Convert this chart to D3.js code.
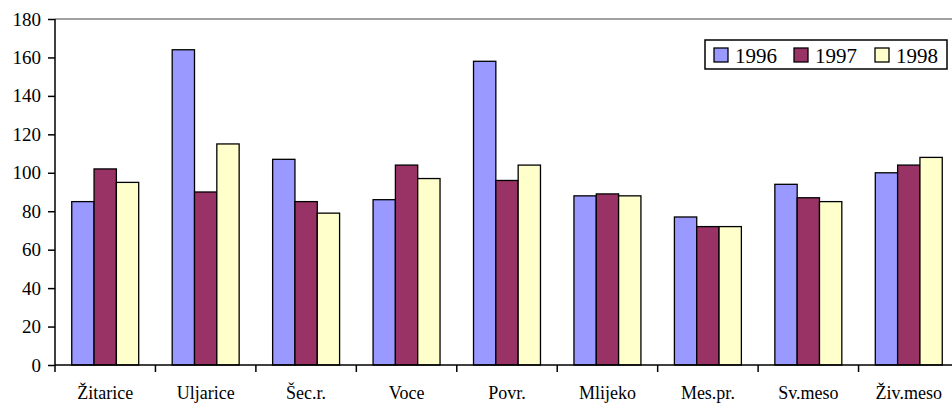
<!DOCTYPE html>
<html>
<head>
<meta charset="utf-8">
<script src="https://cdn.jsdelivr.net/npm/d3@7"></script>
<style>
  body { margin: 0; background: #fff; overflow: hidden; }
  svg text { font-family: "Liberation Serif", "DejaVu Serif", serif; fill: #000; }
</style>
</head>
<body>
<div id="chart"></div>
<script>
// categories and values per year
const categories = ["Žitarice", "Uljarice", "Šec.r.", "Voce", "Povr.", "Mlijeko", "Mes.pr.", "Sv.meso", "Živ.meso"];
const years = ["1996", "1997", "1998"];
const v1996 = [85, 164, 107, 86, 158, 88, 77, 94, 100];
const v1997 = [102, 90, 85, 104, 96, 89, 72, 87, 104];
const v1998 = [95, 115, 79, 97, 104, 88, 72, 85, 108];
const yTicks = [0, 20, 40, 60, 80, 100, 120, 140, 160, 180];
const colors = ["#9999ff", "#993366", "#ffffcc"];

const series = [v1996, v1997, v1998];

const wid = 952, hei = 404;
// plot area
const padLeft = 55, padRight = 959, padTop = 19, padBottom = 365;
const serif = "Liberation Serif";

const svg = d3.select("#chart").append("svg")
    .attr("width", wid)
    .attr("height", hei)
    .style("display", "block");

const yScale = d3.scaleLinear().domain([0, 180]).range([padBottom, padTop]);

const xScale = d3.scaleBand()
    .domain(categories)
    .range([padLeft, padRight])
    .paddingInner(0)
    .paddingOuter(0);

// bar group inside each band: 3 bars + 150% gap
const barW = xScale.bandwidth() / 4.5;
const xInner = d3.scaleBand()
    .domain(years)
    .range([barW * 0.75, barW * 3.75]);

// top gridline
svg.append("line")
    .attr("x1", padLeft).attr("x2", wid)
    .attr("y1", yScale(180)).attr("y2", yScale(180))
    .attr("stroke", "#808080")
    .attr("stroke-width", 1.5);

// bars
const groups = svg.selectAll("g.cat")
    .data(categories)
    .enter()
    .append("g")
    .attr("class", "cat")
    .attr("transform", d => `translate(${xScale(d)},0)`);

groups.selectAll("rect")
    .data((d, i) => years.map((y, j) => ({ year: y, value: series[j][i], j })))
    .enter()
    .append("rect")
    .attr("x", d => xInner(d.year))
    .attr("y", d => yScale(d.value))
    .attr("width", xInner.bandwidth())
    .attr("height", d => padBottom - yScale(d.value))
    .attr("fill", d => colors[d.j])
    .attr("stroke", "#000")
    .attr("stroke-width", 1.3);

// y axis
const yAxis = d3.axisLeft(yScale)
    .tickValues(yTicks)
    .tickSize(7)
    .tickPadding(7);
const yG = svg.append("g")
    .attr("transform", `translate(${padLeft},0)`)
    .call(yAxis)
    .attr("font-family", serif)
    .attr("font-size", 19);
yG.select(".domain").attr("stroke-width", 1.5).attr("d", `M0,${padTop}V${padBottom}`);
yG.selectAll(".tick line").attr("stroke-width", 1.5);

// x axis
const xG = svg.append("g")
    .attr("transform", `translate(0,${padBottom})`)
    .attr("font-family", serif)
    .attr("font-size", 18);
xG.append("line")
    .attr("x1", padLeft).attr("x2", wid)
    .attr("stroke", "#000").attr("stroke-width", 1.5);
xG.selectAll("line.tk")
    .data(categories)
    .enter()
    .append("line")
    .attr("class", "tk")
    .attr("x1", d => xScale(d)).attr("x2", d => xScale(d))
    .attr("y1", 0).attr("y2", 7)
    .attr("stroke", "#000").attr("stroke-width", 1.5);
xG.selectAll("text")
    .data(categories)
    .enter()
    .append("text")
    .attr("x", d => xScale(d) + xScale.bandwidth() / 2)
    .attr("y", 34)
    .attr("text-anchor", "middle")
    .text(d => d);

// legend
const legend = svg.append("g").attr("transform", "translate(705,40)")
    .attr("font-family", serif)
    .attr("font-size", 21);
legend.append("rect")
    .attr("width", 242).attr("height", 29)
    .attr("fill", "#fff").attr("stroke", "#000").attr("stroke-width", 1.5);
const itemX = [9, 89, 170];
const items = legend.selectAll("g.item")
    .data(years)
    .enter()
    .append("g")
    .attr("transform", (d, i) => `translate(${itemX[i]},0)`);
items.append("rect")
    .attr("y", 8).attr("width", 14).attr("height", 14)
    .attr("fill", (d, i) => colors[i])
    .attr("stroke", "#000").attr("stroke-width", 1.3);
items.append("text")
    .attr("x", 21).attr("y", 23)
    .text(d => d);
</script>
</body>
</html>
